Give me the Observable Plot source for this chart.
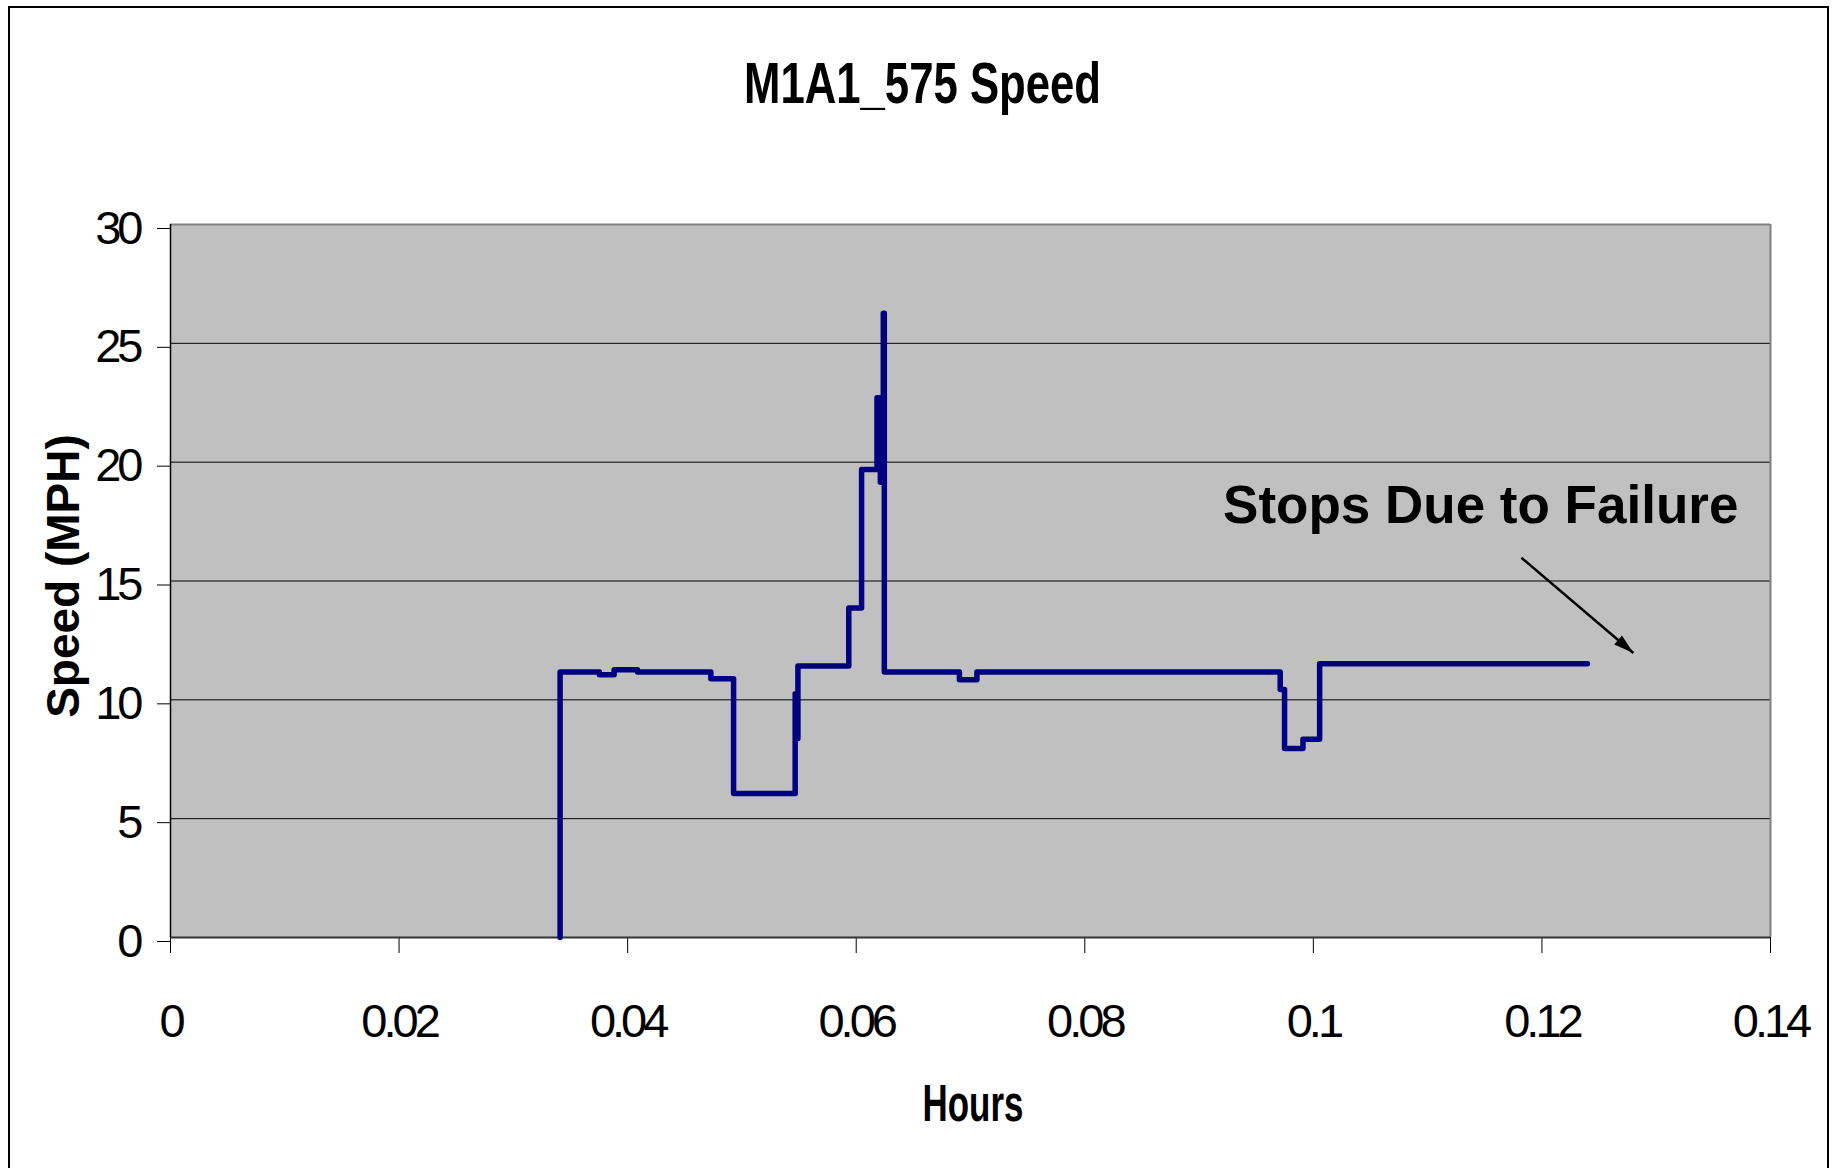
<!DOCTYPE html>
<html>
<head>
<meta charset="utf-8">
<script src="https://cdn.jsdelivr.net/npm/d3@7"></script>
<script src="https://cdn.jsdelivr.net/npm/@observablehq/plot@0.6"></script>
<style>
  html, body { margin: 0; padding: 0; background: #fff; }
  #wrap { position: relative; width: 1837px; height: 1168px; overflow: hidden; background: #fff; }
  #border { position: absolute; left: 8px; top: 6px; width: 1821px; height: 1200px; border: 2px solid #000; box-sizing: border-box; }
  #chart { position: absolute; left: 0; top: 0; }
  g[aria-label="x-axis tick label"] text, g[aria-label="y-axis tick label"] text { letter-spacing: -4px; }
</style>
</head>
<body>
<div id="wrap"><div id="border"></div><div id="chart"></div></div>
<script>
// Step-change points of the speed trace (hours, mph)
const hours = [0.03409, 0.03409, 0.03753, 0.03882, 0.04086, 0.04728, 0.04927, 0.05466, 0.05478, 0.05490,
               0.05935, 0.06047, 0.06182, 0.06211, 0.06237, 0.06246, 0.06903, 0.07056, 0.09710, 0.09748,
               0.09909, 0.10055, 0.12398];
const speed = [0, 11.17, 11.06, 11.27, 11.17, 10.89, 6.06, 10.26, 8.37, 11.42,
               13.86, 19.69, 22.71, 19.16, 26.27, 11.17, 10.85, 11.17, 10.44, 7.95,
               8.34, 11.52, 11.52];

const xTicks = [0, 0.02, 0.04, 0.06, 0.08, 0.1, 0.12, 0.14];
const xTickLabels = ["0", "0.02", "0.04", "0.06", "0.08", "0.1", "0.12", "0.14"];
const yTicks = [0, 5, 10, 15, 20, 25, 30];
const yTickLabels = ["0", "5", "10", "15", "20", "25", "30"];

const titleText = "M1A1_575 Speed";
const xLabel = "Hours";
const yLabel = "Speed (MPH)";

const noteText = ["Stops Due to Failure"];
const noteHours = [0.0921];
const noteSpeed = [18.14];
const arrowHours = [0.1182, 0.1280];
const arrowSpeed = [15.98, 11.97];

const data = hours.map((h, i) => ({hours: h, speed: speed[i]}));
const notes = noteText.map((t, i) => ({text: t, hours: noteHours[i], speed: noteSpeed[i]}));
const arrows = [{x1: arrowHours[0], y1: arrowSpeed[0], x2: arrowHours[1], y2: arrowSpeed[1]}];

const chart = Plot.plot({
  width: 1837,
  height: 1168,
  marginLeft: 170,
  marginRight: 67,
  marginTop: 224,
  marginBottom: 231,
  style: {fontFamily: "'Liberation Sans', Arial, sans-serif", background: "transparent", color: "#000"},
  x: {domain: [0, 0.14], label: null},
  y: {domain: [0, 30], label: null},
  marks: [
    Plot.frame({fill: "#C0C0C0", stroke: "none"}),
    Plot.gridY(yTicks.filter(d => d > 0 && d < 30), {stroke: "#000", strokeOpacity: 1, strokeWidth: 1}),
    Plot.ruleY([30], {stroke: "#808080", strokeWidth: 2}),
    Plot.ruleX([0.14], {stroke: "#808080", strokeWidth: 2}),
    Plot.axisX({ticks: xTicks, tickFormat: d => xTickLabels[xTicks.indexOf(d)], tickSize: 16, tickPadding: 50, fontSize: 47, label: null, stroke: "#000"}),
    Plot.axisY({ticks: yTicks, tickFormat: d => yTickLabels[yTicks.indexOf(d)], tickSize: 13, tickPadding: 18, fontSize: 47, dy: 4, label: null, stroke: "#000"}),
    Plot.ruleY([0], {stroke: "#333", strokeWidth: 2}),
    Plot.ruleX([0], {stroke: "#000", strokeWidth: 1.5}),
    Plot.line(data, {x: "hours", y: "speed", curve: "step-after", stroke: "#000080", strokeWidth: 5.5, strokeLinejoin: "round", strokeLinecap: "round"}),
    Plot.link(arrows, {x1: "x1", y1: "y1", x2: "x2", y2: "y2", stroke: "#000", strokeWidth: 2.5, markerEnd: "arrow"}),
    Plot.text(notes, {x: "hours", y: "speed", text: "text", textAnchor: "start", lineAnchor: "middle", fontSize: 53, fontWeight: "bold", fill: "#000"}),
    Plot.text([titleText], {frameAnchor: "top", text: d => d, textAnchor: "middle", lineAnchor: "middle", dx: -48, dy: -139.5, fontSize: 57, fontWeight: "bold", fill: "#000"}),
    Plot.text([xLabel], {frameAnchor: "bottom", text: d => d, textAnchor: "middle", lineAnchor: "middle", dx: 2.5, dy: 167, fontSize: 52, fontWeight: "bold", fill: "#000"}),
    Plot.text([yLabel], {frameAnchor: "left", text: d => d, textAnchor: "middle", lineAnchor: "middle", rotate: -90, dx: -106.7, dy: -5, fontSize: 46, fontWeight: "bold", fill: "#000"})
  ]
});
document.getElementById("chart").appendChild(chart);

// condense the Excel-style narrow text
const svg = d3.select(chart.tagName === "svg" ? chart : chart.querySelector("svg"));
svg.selectAll("text").each(function () {
  const t = this.textContent;
  if (t === titleText) d3.select(this).attr("textLength", 357).attr("lengthAdjust", "spacingAndGlyphs");
  if (t === xLabel) d3.select(this).attr("textLength", 101).attr("lengthAdjust", "spacingAndGlyphs");
});
// filled triangular arrow head
svg.selectAll("marker").each(function () {
  const m = d3.select(this);
  m.attr("viewBox", "-10 -5 10 10").attr("markerWidth", 8).attr("markerHeight", 8)
   .attr("refX", 0).attr("refY", 0).attr("overflow", "visible")
   .attr("fill", "#000").attr("stroke", "none");
  m.selectAll("*").remove();
  m.append("path").attr("d", "M-10,-3L0,0L-10,3Z").attr("fill", "#000").attr("stroke", "none");
});
</script>
</body>
</html>
